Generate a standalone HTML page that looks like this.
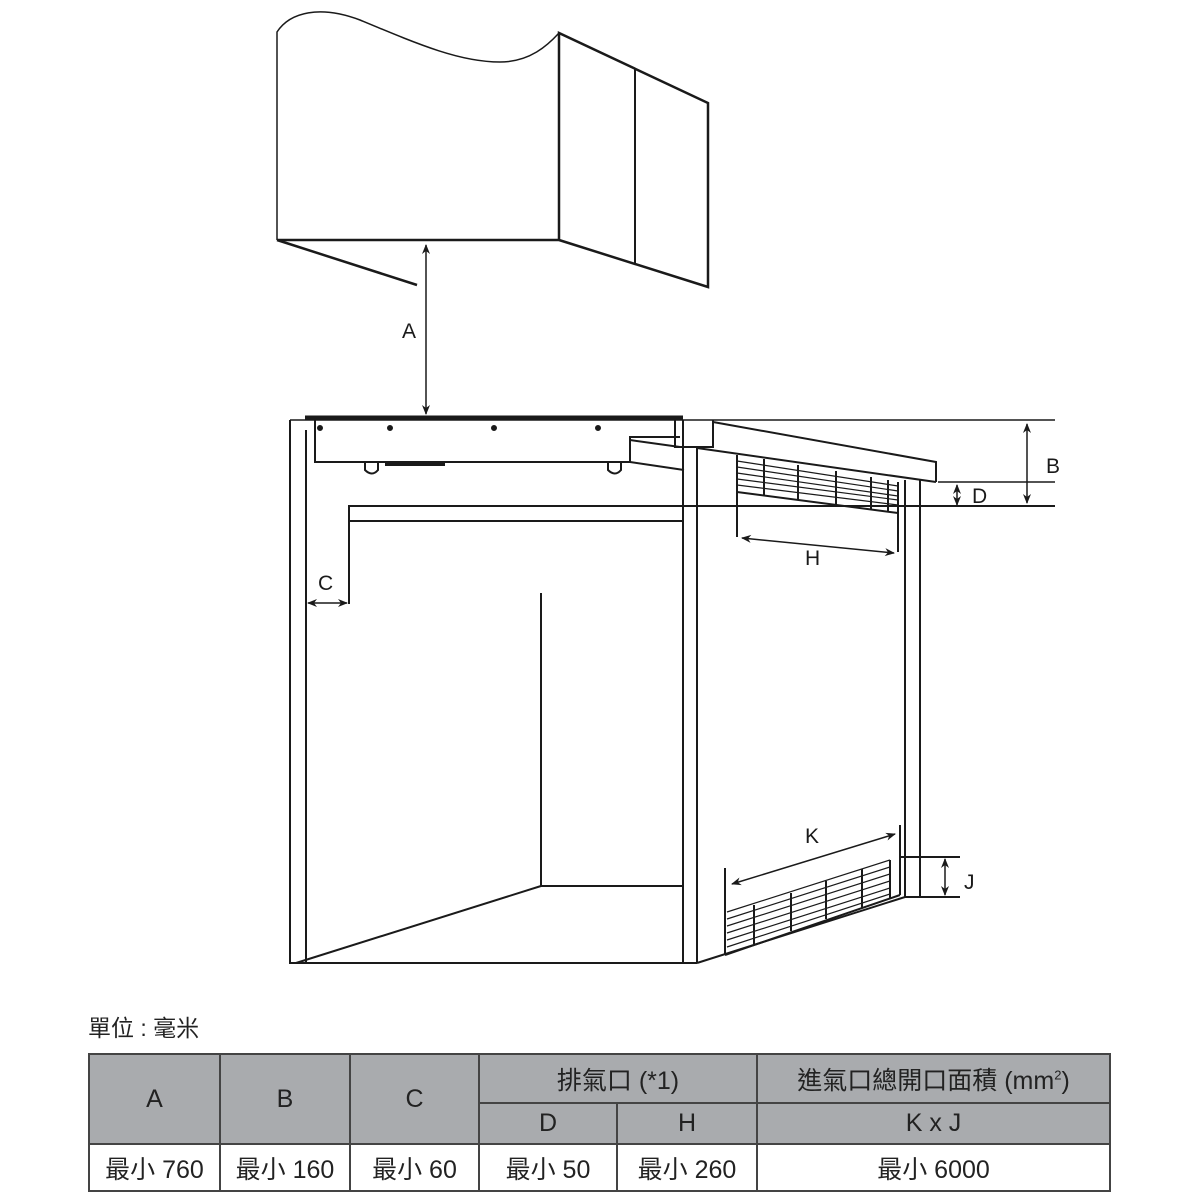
<!DOCTYPE html>
<html><head><meta charset="utf-8"><style>
body{margin:0;background:#fff;width:1200px;height:1200px;overflow:hidden;position:relative;font-family:"Liberation Sans","Noto Sans CJK TC",sans-serif}
svg{position:absolute;left:0;top:0}
table{position:absolute;left:88px;top:1053px;width:1021px;table-layout:fixed;border-collapse:collapse;font-family:"Liberation Sans Narrow","Liberation Sans","Noto Sans CJK TC",sans-serif;font-size:25px;color:#222}
td{border:2px solid #444;text-align:center;padding:0;white-space:nowrap}
.g{background:#a9abae}
</style></head><body>
<svg width="1200" height="1200" viewBox="0 0 1200 1200" fill="none" stroke="#1a1a1a" stroke-width="2">
<defs><marker id="ar" markerWidth="10" markerHeight="10" refX="9" refY="5" orient="auto-start-reverse" markerUnits="userSpaceOnUse"><path d="M0,1 L10,5 L0,9 L3,5 Z" fill="#1a1a1a" stroke="none"/></marker></defs>
<!-- upper cabinet -->
<path d="M277,240 L277,32 C290,12 320,5 360,20 C420,45 460,62 500,62 C530,62 548,45 559,33" stroke-width="1.5"/>
<path d="M277,240 L559,240 L559,33 L708,103 L708,287 L559,240" stroke-width="2.5"/>
<line x1="635" y1="68" x2="635" y2="263"/>
<line x1="277" y1="240" x2="417" y2="285" stroke-width="2.5"/>
<line x1="426" y1="245" x2="426" y2="414" stroke-width="1.5" marker-start="url(#ar)" marker-end="url(#ar)"/>
<!-- base cabinet -->
<line x1="290" y1="420" x2="1055" y2="420" stroke-width="1.5"/>
<line x1="305" y1="418" x2="683" y2="418" stroke-width="5"/>
<path d="M290,420 L290,963 L697,963"/>
<path d="M306,430 L306,963"/>
<path d="M315,420 L315,462 L630,462 L630,437 L680,437"/>
<circle cx="320" cy="428" r="2" fill="#1a1a1a"/><circle cx="390" cy="428" r="2" fill="#1a1a1a"/><circle cx="494" cy="428" r="2" fill="#1a1a1a"/><circle cx="598" cy="428" r="2" fill="#1a1a1a"/>
<path d="M365,462 L365,470 Q372,477 378,470 L378,462 M608,462 L608,470 Q615,477 621,470 L621,462"/>
<rect x="385" y="462" width="60" height="4" fill="#1a1a1a" stroke="none"/>
<path d="M630,440 L680,447 M630,462 L684,470"/>
<path d="M683,420 L683,963 M697,447 L697,963"/>
<path d="M675,420 L675,447 L713,447 L713,420 M713,422 L936,462 L936,482 M697,448 L936,482"/>
<!-- shelf -->
<path d="M349,604 L349,506 L1055,506 M349,506 L349,521 L684,521"/>
<path d="M541,593 L541,886 L684,886 M541,886 L296,963"/>
<!-- right side -->
<path d="M697,963 L905,897 L920,897 L920,480"/>
<path d="M905,480 L905,897"/>
<!-- upper grill -->
<path d="M737,455 L737,537 M898,482 L898,552"/>
<path d="M737,492 L898,513"/>
<g stroke-width="1.2"><path d="M737,461 L898,486 M737,467 L898,491 M737,473 L898,496 M737,479 L898,500 M737,485 L898,505"/></g>
<path d="M764,459 L764,496 M798,465 L798,500 M836,471 L836,505 M871,477 L871,510 M888,480 L888,512"/>
<line x1="742" y1="538" x2="894" y2="553" stroke-width="1.5" marker-start="url(#ar)" marker-end="url(#ar)"/>
<!-- D/B dims -->
<line x1="938" y1="482" x2="1055" y2="482" stroke-width="1.5"/>
<line x1="957" y1="485" x2="957" y2="505" stroke-width="1.5" marker-start="url(#ar)" marker-end="url(#ar)"/>
<line x1="1027" y1="424" x2="1027" y2="503" stroke-width="1.5" marker-start="url(#ar)" marker-end="url(#ar)"/>
<line x1="308" y1="603" x2="347" y2="603" stroke-width="1.5" marker-start="url(#ar)" marker-end="url(#ar)"/>
<!-- lower grill -->
<path d="M725,868 L725,955 M900,825 L900,895 M900,857 L960,857 M910,897 L960,897"/>
<path d="M725,955 L900,895"/>
<g stroke-width="1.2"><path d="M727,912 L890,860 M727,919 L890,867 M727,926 L890,874 M727,933 L890,881 M727,940 L890,888 M727,947 L890,894"/></g>
<path d="M754,905 L754,944 M791,893 L791,931 M826,881 L826,919 M862,869 L862,908 M890,860 L890,898"/>
<line x1="732" y1="884" x2="895" y2="834" stroke-width="1.5" marker-start="url(#ar)" marker-end="url(#ar)"/>
<line x1="945" y1="859" x2="945" y2="895" stroke-width="1.5" marker-start="url(#ar)" marker-end="url(#ar)"/>
<g fill="#1a1a1a" stroke="none" font-family="Liberation Sans, sans-serif" font-size="21">
<text x="402" y="338">A</text><text x="1046" y="473">B</text><text x="318" y="590">C</text><text x="972" y="503">D</text>
<text x="805" y="565">H</text><text x="805" y="843">K</text><text x="964" y="889">J</text>
</g>
<text x="88" y="1036" fill="#222" stroke="none" font-size="23" font-family="Liberation Sans, Noto Sans CJK TC, sans-serif">單位 : 毫米</text>
</svg>
<table>
<colgroup><col style="width:131px"><col style="width:130px"><col style="width:129px"><col style="width:138px"><col style="width:140px"><col style="width:353px"></colgroup>
<tr style="height:49px"><td class="g" rowspan="2">A</td><td class="g" rowspan="2">B</td><td class="g" rowspan="2">C</td><td class="g" colspan="2">排氣口 (*1)</td><td class="g">進氣口總開口面積 (mm<sup style="font-size:13px">2</sup>)</td></tr>
<tr style="height:41px"><td class="g">D</td><td class="g">H</td><td class="g">K x J</td></tr>
<tr style="height:47px"><td>最小 760</td><td>最小 160</td><td>最小 60</td><td>最小 50</td><td>最小 260</td><td>最小 6000</td></tr>
</table>
</body></html>
